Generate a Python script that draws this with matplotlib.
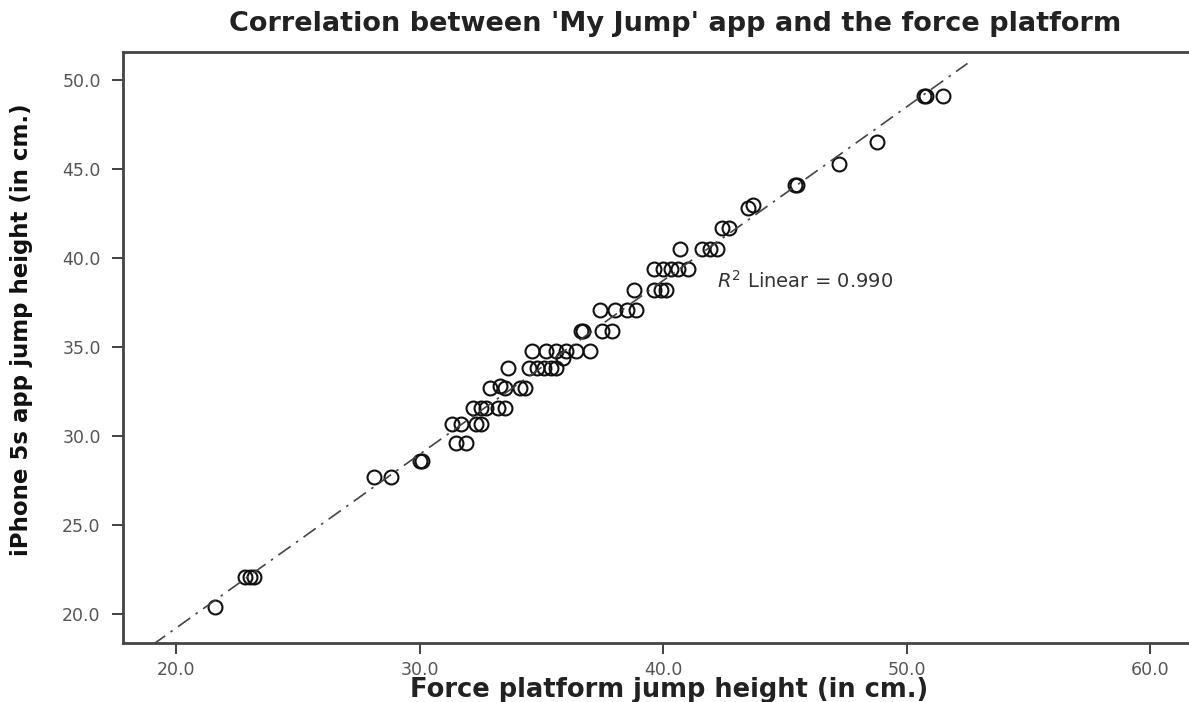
import numpy as np
import matplotlib
matplotlib.use("Agg")
import matplotlib.pyplot as plt

# force platform (x) vs My Jump app (y)
force_cm = [21.6,
            22.8, 23.0, 23.2,
            28.1, 28.8,
            30.0, 30.1,
            31.5, 31.9,
            31.3, 31.7, 32.3, 32.5,
            32.2, 32.5, 32.7, 33.2, 33.5,
            32.9, 33.3, 33.5, 34.1, 34.3,
            33.6, 34.5, 34.8, 35.1, 35.4, 35.6,
            34.6, 35.2, 35.6, 36.0, 36.4, 37.0,
            35.9,
            36.6, 36.7, 37.5, 37.9,
            37.4, 38.0, 38.5, 38.9,
            38.8, 39.6, 39.9, 40.1,
            39.6, 40.0, 40.3, 40.6, 41.0,
            40.7, 41.6, 41.9, 42.2,
            42.4, 42.7,
            43.5, 43.7,
            45.4, 45.5,
            47.2,
            48.8,
            50.7, 50.8, 51.5]
app_cm = [20.4,
          22.1, 22.1, 22.1,
          27.7, 27.7,
          28.6, 28.6,
          29.6, 29.6,
          30.7, 30.7, 30.7, 30.7,
          31.6, 31.6, 31.6, 31.6, 31.6,
          32.7, 32.8, 32.7, 32.7, 32.7,
          33.8, 33.8, 33.8, 33.8, 33.8, 33.8,
          34.8, 34.8, 34.8, 34.8, 34.8, 34.8,
          34.4,
          35.9, 35.9, 35.9, 35.9,
          37.1, 37.1, 37.1, 37.1,
          38.2, 38.2, 38.2, 38.2,
          39.4, 39.4, 39.4, 39.4, 39.4,
          40.5, 40.5, 40.5, 40.5,
          41.7, 41.7,
          42.8, 43.0,
          44.1, 44.1,
          45.3,
          46.5,
          49.1, 49.1, 49.1]

x_ticks = [20, 30, 40, 50, 60]
y_ticks = [20, 25, 30, 35, 40, 45, 50]
r2_text = "0.990"

x = np.array(force_cm)
y = np.array(app_cm)
slope, inter = np.polyfit(x, y, 1)

fig = plt.figure(figsize=(11.89, 7.02), dpi=100)
ax = fig.add_axes([0.1034, 0.084, 0.8966, 0.8419])

ax.plot(x, y, linestyle="none", marker="o", markersize=10,
        markerfacecolor="none", markeredgecolor="#111111", markeredgewidth=1.5)

# fit line, drawn past the data and clipped by the axes
xl = np.array([18.0, 52.5])
ax.plot(xl, slope * xl + inter, color="#444444", linewidth=1.2,
        dashes=(9, 4, 1.5, 4))

ax.set_xlim(17.8, 61.6)
ax.set_ylim(18.37, 51.57)
ax.set_xticks(x_ticks)
ax.set_yticks(y_ticks)
ax.set_xticklabels([f"{t:.1f}" for t in x_ticks])
ax.set_yticklabels([f"{t:.1f}" for t in y_ticks])
ax.tick_params(colors="#333333", labelcolor="#555555", labelsize=12.5,
               length=8, width=1.3)
ax.tick_params(axis="y", pad=8)
ax.tick_params(axis="x", pad=5)

for s in ["left", "bottom", "top"]:
    ax.spines[s].set_color("#444444")
    ax.spines[s].set_linewidth(2.0)
ax.spines["right"].set_visible(False)

ax.text(42.2, 38.7, r"$\it{R}^{2}$ Linear = " + r2_text, fontsize=14,
        color="#333333", va="center")

fig.text(0.568, 0.966, "Correlation between 'My Jump' app and the force platform",
         ha="center", va="center", fontsize=19.5, fontweight="bold", color="#222222")
fig.text(0.563, 0.017, "Force platform jump height (in cm.)",
         ha="center", va="center", fontsize=18.5, fontweight="bold", color="#222222")
fig.text(0.018, 0.53, "iPhone 5s app jump height (in cm.)", rotation=90,
         ha="center", va="center", fontsize=16.5, fontweight="bold", color="#111111")

fig.savefig("out.png", dpi=100)
